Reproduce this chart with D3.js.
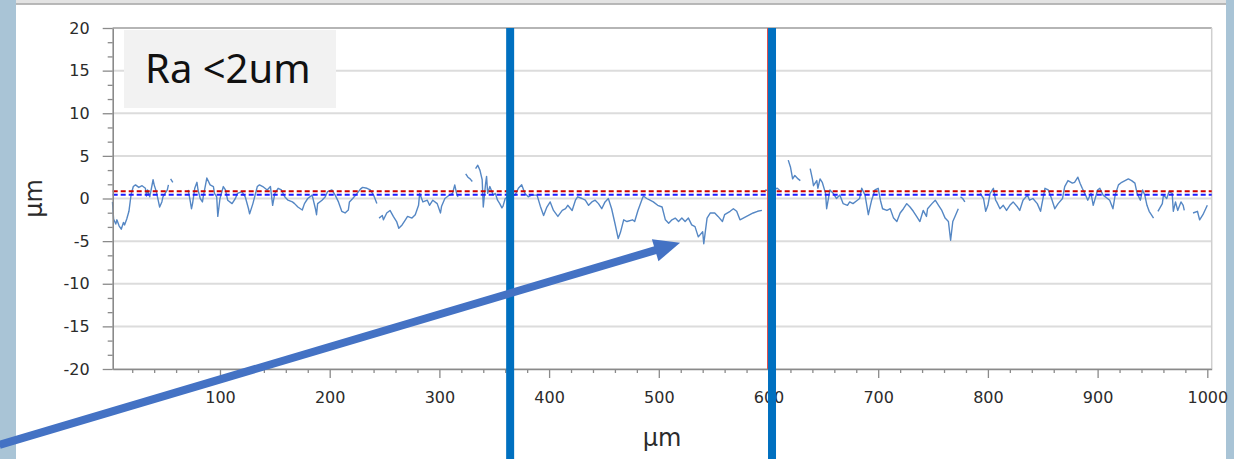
<!DOCTYPE html>
<html><head><meta charset="utf-8">
<script src="https://cdn.jsdelivr.net/npm/d3@7"></script>
<style>html,body{margin:0;padding:0;background:#a9c4d6;}svg{display:block}</style>
</head><body>
<svg id="c" width="1234" height="459"></svg>
<script>
// ---------------- data ----------------
const xTicks = [100, 200, 300, 400, 500, 600, 700, 800, 900, 1000];
const yTicks = [-20, -15, -10, -5, 0, 5, 10, 15, 20];
const xTitle = "µm";
const yTitle = "µm";
const annotation = "Ra <2um";
// profile: [position µm, height µm]; null = break in the trace
const profile = [
 [2,-0.4],[3,-2.4],[5,-3.0],[6,-2.5],[8,-3.2],[10,-3.6],[12,-2.8],[13,-3.1],[15,-2.4],[17,-1.5],[19,0.5],[21,1.4],[23,1.6],[26,1.3],[29,1.5],[32,1.2],[33,0.3],[34,1.0],[36,0.2],[39,2.2],[40,1.6],[42,0.8],[43,0.2],[45,-1.0],[47,-0.4],[48,0.2],[50,0.6],[52,1.0],[53,1.6],
 [54,null],
 [55,2.3],[57,1.9],
 [64,null],
 [71,1.0],[73,-0.4],[74,-1.2],[75,-0.6],[77,1.2],[79,1.9],[80,1.0],[82,0],[84,-0.4],[85,0.4],[88,2.4],[91,1.6],[94,1.4],[95,0.6],[97,0.2],[98,-2.1],[100,0],[103,1.4],[105,1.0],[107,-0.2],[111,-0.6],[114,0],[116,0.6],[120,0.8],[123,0.2],[126,-1.2],[127,-1.8],[130,-0.6],[134,1.4],[136,1.6],[139,1.4],[143,1.0],[146,1.4],[148,-0.8],[150,0.6],[153,1.2],[156,1.0],[159,0.2],[162,-0.2],[166,-0.4],[168,-0.6],[171,-1.0],[175,-1.35],[177,-0.6],[180,0],[184,0.4],[187,-1.2],[188,-1.9],[189,-0.6],[193,-0.2],[196,0.2],[198,0.8],[202,1.0],[205,0.4],[208,-0.4],[211,-1.5],[214,-1.7],[217,-1.35],[218,-0.4],[221,0],[225,0.6],[228,1.1],[230,1.3],[234,1.2],[237,1.0],[240,0.4],[243,-0.6],
 [244,null],
 [245,-2.3],[248,-2.0],[249,-2.5],[252,-1.7],[255,-1.4],[258,-2.1],[261,-2.7],[263,-3.5],[266,-3.1],[269,-2.5],[271,-2.1],[275,-2.3],[278,-1.9],[281,-0.8],[282,0.6],[285,-0.4],[289,-0.2],[291,-0.8],[294,-0.2],[298,-0.6],[301,-1.7],[302,-0.9],[305,0],[308,0.3],[312,0.6],[314,1.6],[316,0.4],[317,0.2],
 [320,null],
 [324,2.9],[326,2.5],[328,2.3],[330,2.0],
 [331,null],
 [333,3.5],[335,3.9],[337,3.3],[339,2.2],[340,-1.0],[342,1.6],[343,2.6],[344,0.6],[346,1.4],[349,0.4],[351,0.6],[353,-0.2],[355,-0.6],[357,-1.1],[358,-0.9],[360,0.0],[364,0.3],[369,0.4],[372,1.2],[375,1.6],[378,0.6],[381,0.2],[384,0.4],[389,0.4],[392,-0.9],[395,-2.0],[398,-1.0],[401,-0.4],[404,-1.4],[408,-2.1],[412,-1.4],[415,-1.2],[417,-0.8],[421,-1.4],[424,-0.2],[426,0.2],[430,0],[433,-0.2],[436,-0.8],[439,-0.4],[442,-0.2],[445,-0.6],[448,-1.2],[451,-0.4],[454,0],[457,-1.2],[460,-2.9],[463,-4.7],[465,-4.0],[468,-2.5],[471,-2.7],[476,-2.5],[478,-2.7],[481,-1.4],[485,0],[486,0.3],[489,0],[492,-0.2],[495,-0.4],[499,-0.8],[503,-1.0],[506,-2.5],[509,-2.9],[512,-2.5],[515,-2.3],[518,-2.7],[521,-2.3],[524,-2.7],[527,-2.3],[530,-3.1],[533,-3.3],[536,-4.5],[540,-3.9],[541,-5.3],[544,-2.3],[547,-1.7],[551,-1.7],[554,-2.1],[558,-2.7],[560,-1.9],[565,-1.5],[568,-1.2],[571,-1.5],[574,-2.5],[577,-2.3],[580,-2.1],[583,-1.9],[586,-1.7],[590,-1.5],[594,-1.4],
 [595,null],
 [597,1.0],[601,0.9],[608,1.2],[610,1.0],
 [614,null],
 [618,4.5],[620,3.7],[622,2.3],[624,2.7],[627,2.3],[629,2.1],
 [634,null],
 [638,3.5],[640,2.3],[641,1.5],[644,2.1],[645,1.2],[647,2.3],[649,1.9],[652,0.6],[653,-1.2],[656,1.0],[659,0.6],[662,0],[665,0.4],[668,-0.6],[672,-0.8],[674,-0.4],[677,-0.6],[681,-0.2],[683,0],[685,1.2],[688,0.4],[691,-1.9],[694,-0.2],[697,1.0],[700,1.2],[702,-0.2],[704,-1.2],[708,-1.4],[711,-1.2],[714,-2.3],[717,-2.7],[720,-1.7],[723,-1.2],[726,-0.6],[729,-1.0],[732,-1.5],[735,-2.1],[738,-2.7],[741,-1.4],[744,-2.1],[745,-1.2],[749,-0.6],[752,-0.2],[755,-0.8],[758,-1.4],[761,-2.3],[764,-2.7],[766,-4.9],[768,-2.7],[770,-2.1],[773,-1.2],
 [774,null],
 [775,0.2],[777,0.0],[779,-0.4],
 [786,null],
 [793,0.6],[796,0],[798,-1.5],[800,-0.8],[802,0.6],[805,1.2],[807,-0.2],[808,-0.4],[811,-1.2],[814,-0.8],[817,-1.4],[820,-0.8],[823,-0.4],[827,-1.0],[829,-1.4],[832,-0.2],[836,0.4],[838,-0.2],[841,0],[845,-0.6],[848,-1.5],[849,-0.8],[852,1.2],[855,1.0],[858,0],[861,-1.2],[864,-0.6],[868,0],[870,1.4],[873,2.1],[877,1.8],[879,1.9],[882,2.5],[884,1.8],[886,1.2],[889,0.4],[891,-0.2],[894,0.6],[896,-0.8],[900,1.0],[902,1.2],[905,0.4],[909,0],[911,-0.2],[914,-1.2],[916,0.4],[919,1.6],[922,1.9],[925,2.1],[928,2.3],[931,2.1],[934,1.8],[936,0.6],[939,-0.2],[941,1.0],[943,0.4],[945,-0.8],[947,-1.5],[951,-2.3],
 [953,null],
 [955,-1.5],[959,-0.6],[960,0.4],[963,0],[965,0.8],[968,0.6],[969,-1.5],[971,-0.4],[973,-1.4],[976,-0.4],[978,-0.8],[979,-1.4],
 [983,null],
 [987,-1.7],[991,-1.5],[993,-2.5],[996,-1.9],[1000,-0.8]
];
const refLevels = [0.85, 0.45];          // red dashed, blue dashed (µm)
const markerPositions = [364.5, 603.2];   // thick vertical markers (µm)
const cursorPosition = 599.1;             // thin red cursor (µm)
const arrowFrom = [-101, -28.9];          // arrow tail (µm, µm)
const arrowTo = [519.4, -5.2];            // arrow tip (µm, µm)

// ---------------- drawing ----------------
const W = 1234, H = 459;
const svg = d3.select("#c");
svg.append("rect").attr("width", W).attr("height", H).attr("fill", "#a9c4d6");
svg.append("rect").attr("x", 16).attr("y", 0).attr("width", 1210).attr("height", H).attr("fill", "#ffffff");
svg.append("rect").attr("x", 16).attr("y", 0).attr("width", 1210).attr("height", 3.5).attr("fill", "#e3e3e3");
svg.append("line").attr("x1", 16).attr("x2", 1226).attr("y1", 4).attr("y2", 4).attr("stroke", "#a2a2a2").attr("stroke-width", 1.5);

const x = d3.scaleLinear().domain([2.2, 1004]).range([112.7, 1211.7]);
const y = d3.scaleLinear().domain([-20, 20]).range([369, 28]);
const [x0, x1] = x.range();

// gridlines
svg.append("g").selectAll("line").data(yTicks).join("line")
  .attr("x1", x0).attr("x2", x1).attr("y1", d => y(d)).attr("y2", d => y(d))
  .attr("stroke", "#dcdcdc").attr("stroke-width", 2);

// plot frame top/right
svg.append("line").attr("x1", x0).attr("x2", x1).attr("y1", y(20)).attr("y2", y(20))
  .attr("stroke", "#a8a8a8").attr("stroke-width", 1.6);
svg.append("line").attr("x1", x1).attr("x2", x1).attr("y1", y(20)).attr("y2", y(-20))
  .attr("stroke", "#cfcfcf").attr("stroke-width", 1.5);

// profile
const line = d3.line().defined(d => d[1] !== null).x(d => x(d[0])).y(d => y(d[1]));
svg.append("path").datum(profile).attr("d", line)
  .attr("fill", "none").attr("stroke", "#5587c4").attr("stroke-width", 1.4).attr("stroke-linejoin", "round");

// reference dashed lines
const refColors = ["#cc0000", "#1c1cff"];
svg.append("g").selectAll("line").data(refLevels).join("line")
  .attr("x1", x0).attr("x2", x1).attr("y1", d => y(d)).attr("y2", d => y(d))
  .attr("stroke", (d, i) => refColors[i]).attr("stroke-width", 2).attr("stroke-dasharray", "5,3");

// axes
const axisColor = "#8a8a8a";
const fontTick = "DejaVu Sans, sans-serif";
const fmt = d => String(d);
function styleAxis(g, keepDomain) {
  g.selectAll(".tick line").attr("stroke", axisColor).attr("stroke-width", 1.3);
  if (!keepDomain) g.select(".domain").remove();
  else g.select(".domain").attr("stroke", axisColor).attr("stroke-width", 1.6);
  g.selectAll("text").attr("fill", "#2b2b2b").style("font-family", fontTick).style("font-size", "16px");
}
const xMinor = d3.range(20, 1001, 20).filter(v => v % 100 !== 0);
svg.append("g").attr("transform", `translate(0,${y(-20)})`)
  .call(d3.axisBottom(x).tickValues(xMinor).tickSize(4).tickSizeOuter(0).tickFormat(""))
  .call(g => styleAxis(g, false));
svg.append("g").attr("transform", `translate(0,${y(-20)})`)
  .call(d3.axisBottom(x).tickValues(xTicks).tickSize(9).tickSizeOuter(0).tickPadding(14).tickFormat(fmt))
  .call(g => styleAxis(g, true));

const yMinor = d3.range(0, 25).filter(i => i % 3 !== 0).map(i => -20 + i * 5 / 3);
svg.append("g").attr("transform", `translate(${x0},0)`)
  .call(d3.axisLeft(y).tickValues(yMinor).tickSize(5).tickSizeOuter(0).tickFormat(""))
  .call(g => styleAxis(g, false));
svg.append("g").attr("transform", `translate(${x0},0)`)
  .call(d3.axisLeft(y).tickValues(yTicks).tickSize(10).tickSizeOuter(0).tickPadding(13).tickFormat(fmt))
  .call(g => styleAxis(g, true));

// axis titles
svg.append("text").attr("x", 662).attr("y", 446).attr("text-anchor", "middle")
  .style("font-family", fontTick).style("font-size", "24px").attr("fill", "#2b2b2b").text(xTitle);
svg.append("text").attr("transform", "translate(42,198.5) rotate(-90)").attr("text-anchor", "middle")
  .style("font-family", fontTick).style("font-size", "24px").attr("fill", "#2b2b2b").text(yTitle);

// annotation box
svg.append("rect").attr("x", 124).attr("y", 30).attr("width", 212).attr("height", 78).attr("fill", "#f2f2f2");
svg.append("text").attr("x", 145).attr("y", 83)
  .style("font-family", "Noto Sans, Open Sans, sans-serif").style("font-size", "40px").attr("fill", "#111").text(annotation);

// cursor and markers
svg.append("line").attr("x1", x(cursorPosition)).attr("x2", x(cursorPosition)).attr("y1", y(20)).attr("y2", y(-20))
  .attr("stroke", "#e05050").attr("stroke-width", 1);
svg.append("g").selectAll("line").data(markerPositions).join("line")
  .attr("x1", d => x(d)).attr("x2", d => x(d)).attr("y1", y(20)).attr("y2", H)
  .attr("stroke", "#0070c0").attr("stroke-width", 8);

// arrow
const ax1 = x(arrowFrom[0]), ay1 = y(arrowFrom[1]), ax2 = x(arrowTo[0]), ay2 = y(arrowTo[1]);
const len = Math.hypot(ax2 - ax1, ay2 - ay1);
const ux = (ax2 - ax1) / len, uy = (ay2 - ay1) / len, px = -uy, py = ux;
const headL = 26, headW = 11.5;
const bx = ax2 - ux * headL, by = ay2 - uy * headL;
svg.append("line").attr("x1", ax1).attr("y1", ay1).attr("x2", bx + ux * 2).attr("y2", by + uy * 2)
  .attr("stroke", "#4472c4").attr("stroke-width", 8);
svg.append("path")
  .attr("d", `M${ax2},${ay2}L${bx + px * headW},${by + py * headW}L${bx - px * headW},${by - py * headW}Z`)
  .attr("fill", "#4472c4");
</script>
</body></html>
